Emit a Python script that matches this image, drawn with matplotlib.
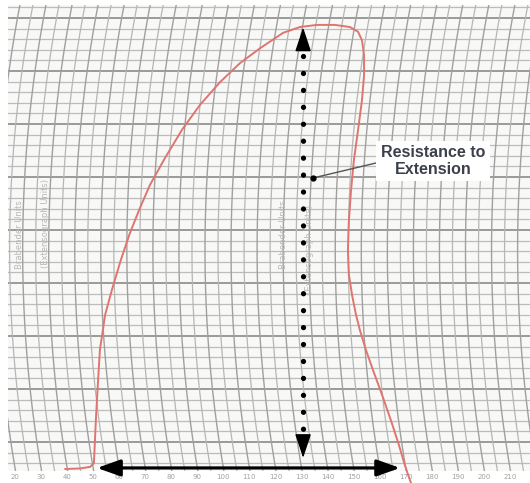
import numpy as np
import matplotlib
matplotlib.use("Agg")
import matplotlib.pyplot as plt
from matplotlib.patches import Rectangle

# ---------------- data ----------------
scale_labels = [20, 30, 40, 50, 60, 70, 80, 90, 100, 110, 120, 130, 140, 150,
                160, 170, 180, 190, 200, 210]

curve_ext = [39.2, 44.9, 48.8, 50.3, 50.7, 51.1, 51.9, 52.6, 54.6, 57.2, 60.6,
             64.1, 68.0, 71.8, 77.6, 84.1, 91.0, 98.7, 106.4, 114.1, 122.9,
             129.4, 135.9, 142.8, 148.6, 151.7, 153.2, 154.0, 154.0, 153.2,
             151.7, 150.1, 149.0, 148.2, 147.8, 148.2, 149.4, 150.9, 152.4,
             154.7, 157.4, 160.9, 164.3, 167.4, 169.3, 170.9, 172.0]
curve_bu = [49, 50, 53, 60, 104, 147, 217, 274, 340, 387, 443, 494, 542, 585,
            636, 689, 736, 779, 815, 843, 872, 883, 887, 887, 883, 874, 858,
            830, 792, 745, 689, 632, 575, 519, 462, 415, 377, 340, 311, 274,
            236, 189, 141, 94, 62, 38, 23]

extension_start, extension_end = 51.5, 167.8
baseline_bu = 51
resistance_ext = 130.6
resistance_top_bu, resistance_bottom_bu = 882, 70

# ---------------- figure / coordinate frame ----------------
XMIN, XMAX = 14.24, 217.7
YMIN, YMAX = 22.6, 934.0
W, H = 530, 483
PXX = W / (XMAX - XMIN)   # px per extension unit
PXY = H / (YMAX - YMIN)   # px per BU

def px2data(xp, yp):
    return XMIN + np.asarray(xp) / PXX, YMAX - np.asarray(yp) / PXY

fig = plt.figure(figsize=(5.3, 4.83), dpi=100)
fig.patch.set_facecolor("white")
ax = fig.add_axes([0, 0, 1, 1])
ax.set_xlim(XMIN, XMAX)
ax.set_ylim(YMIN, YMAX)
ax.axis("off")

# grid area
gx0, gy_top = px2data(8, 5)
gx1, gy_bot = px2data(530, 471)
bg = Rectangle((gx0, gy_bot), gx1 - gx0, gy_top - gy_bot, facecolor="#f8f8f6",
               edgecolor="none", zorder=0)
ax.add_patch(bg)
clip = Rectangle((gx0, gy_bot), gx1 - gx0, gy_top - gy_bot, transform=ax.transData,
                 facecolor="none", edgecolor="none")
ax.add_patch(clip)

# horizontal lines
for b in range(40, 941, 20):
    heavy = (b % 100 == 0)
    ln, = ax.plot([gx0, gx1], [b, b], color="#9a9a9a" if heavy else "#bcbcbc",
                  lw=1.4 if heavy else 0.9, zorder=1)
    ln.set_clip_path(clip)

# curved (arc) vertical lines
R = 1300.0
yc = 250.0
yb = 468.0
ypx = np.linspace(0, H, 200)
for v in np.arange(0, 236, 5):
    xb = (v - XMIN) * PXX
    xp = xb + np.sqrt(R**2 - (yb - yc)**2) - np.sqrt(R**2 - (ypx - yc)**2)
    dx, dy = px2data(xp, ypx)
    major = (v % 10 == 0)
    ln, = ax.plot(dx, dy, color="#a0a0a0" if major else "#b6b6b6",
                  lw=1.0 if major else 0.9, zorder=1)
    ln.set_clip_path(clip)

# scale labels
lab_y = YMAX - 477 / PXY
for v in scale_labels:
    ax.text(v, lab_y, str(v), fontsize=5, color="#a0a0a0", ha="center", va="center")

# faint rotated paper texts
for (xp, yp, s) in [(20, 235, "Brabender Units"), (46, 223, "(Extensograph Units)"),
                    (283, 235, "Brabender Units"), (310, 250, "(Extensograph Units)")]:
    tx, ty = px2data(xp, yp)
    ax.text(tx, ty, s, rotation=90, fontsize=6, color="#b8b8b8",
            ha="center", va="center", zorder=2)

# extensogram curve
ax.plot(curve_ext, curve_bu, color="#de7570", lw=1.4, zorder=3,
        solid_capstyle="round", solid_joinstyle="round")

# horizontal extensibility arrow
ax.annotate("", xy=(extension_end, baseline_bu), xytext=(extension_start, baseline_bu),
            arrowprops=dict(arrowstyle="<|-|>,head_length=1.4,head_width=0.5",
                            color="black", lw=2.3, shrinkA=0, shrinkB=0),
            zorder=5)

# vertical resistance dotted arrow
head_bu = 42
ax.plot([resistance_ext, resistance_ext],
        [resistance_top_bu - head_bu - 12, resistance_bottom_bu + head_bu + 12],
        color="black", lw=3.8, linestyle=(0, (0.01, 3.2)),
        dash_capstyle="round", zorder=5)
ax.annotate("", xy=(resistance_ext, resistance_top_bu),
            xytext=(resistance_ext, resistance_top_bu - head_bu),
            arrowprops=dict(arrowstyle="-|>,head_length=1.5,head_width=0.5",
                            color="black", lw=1, shrinkA=0, shrinkB=0), zorder=5)
ax.annotate("", xy=(resistance_ext, resistance_bottom_bu),
            xytext=(resistance_ext, resistance_bottom_bu + head_bu),
            arrowprops=dict(arrowstyle="-|>,head_length=1.5,head_width=0.5",
                            color="black", lw=1, shrinkA=0, shrinkB=0), zorder=5)

# leader line + label
lx0, ly0 = px2data(313, 178)
lx1, ly1 = px2data(376, 163)
ax.plot([lx0, lx1], [ly0, ly1], color="#555555", lw=1.0, zorder=6)
ax.plot([lx0], [ly0], "o", color="black", ms=3.5, zorder=6)
tx, ty = px2data(433, 161)
ax.text(tx, ty, "Resistance to\nExtension", ha="center", va="center",
        fontsize=11.5, fontweight="bold", color="#3b404c", family="Liberation Sans",
        linespacing=1.1, zorder=7,
        bbox=dict(boxstyle="square,pad=0.3", fc="white", ec="none"))

fig.savefig("out.png", dpi=100)
